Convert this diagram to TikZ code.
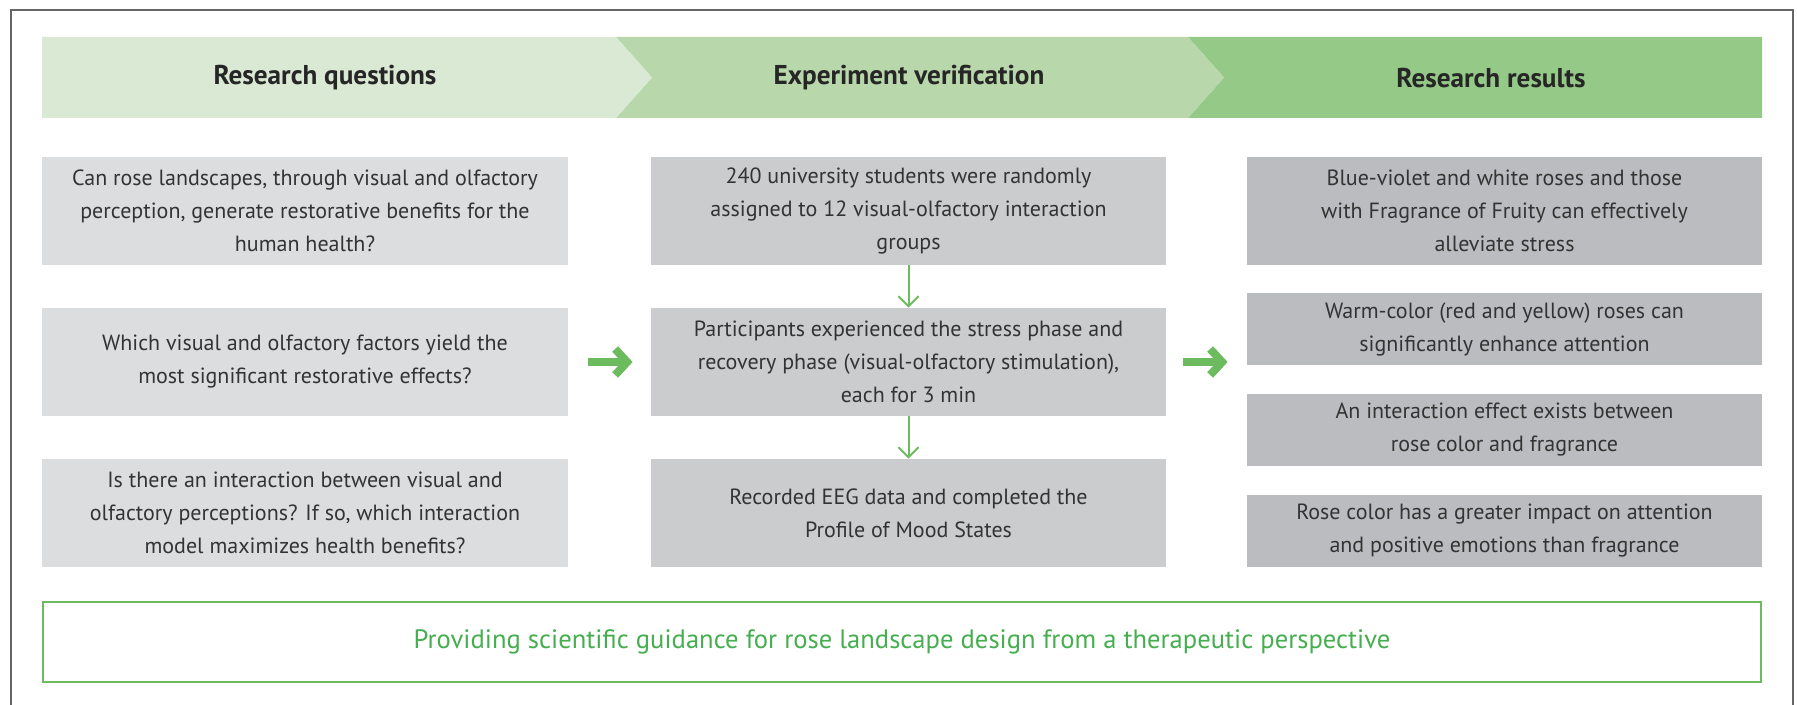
\documentclass[tikz,border=0pt]{standalone}
\usepackage{fontspec}
\setmainfont{PT Sans}
\usepackage{xcolor}
\usetikzlibrary{
    arrows.meta,
    calc
}
\definecolor{frameline}{HTML}{666666}
\definecolor{headA}{HTML}{DAE9D4}
\definecolor{headB}{HTML}{B8D8AC}
\definecolor{headC}{HTML}{94C988}
\definecolor{grayQ}{HTML}{DCDDDF}
\definecolor{grayE}{HTML}{CBCCCE}
\definecolor{grayR}{HTML}{BBBCBF}
\definecolor{arrowgreen}{HTML}{6CBB5F}
\definecolor{guidegreen}{HTML}{45AE4F}
\definecolor{bodytext}{HTML}{333333}

\begin{document}
\begin{tikzpicture}[x=0.5pt, y=-0.5pt,
    box/.style={inner sep=0pt, align=center, text=bodytext,
        font=\fontsize{11}{16.5}\selectfont, minimum height=54pt},
    qbox/.style={box, fill=grayQ, minimum width=263pt},
    ebox/.style={box, fill=grayE, minimum width=257.5pt},
    rbox/.style={box, fill=grayR, minimum width=257.5pt},
    head/.style={font=\fontsize{13.6}{16}\selectfont\bfseries, text=black!85},
    thinarrow/.style={arrowgreen, line width=1pt, -{Straight Barb[length=5pt, width=10pt]}},
    bigarrow/.style={arrowgreen, line width=4pt, -{Straight Barb[length=6pt, width=13pt]}}
    ]
    \useasboundingbox (0,0) rectangle (1797,705);
    \draw[frameline, line width=0.8pt] (11,740) -- (11,10) -- (1793,10) -- (1793,740);

    % header band
    \fill[headC] (1188,37) -- (1762,37) -- (1762,118) -- (1188,118) -- (1224,77.5) -- cycle;
    \fill[headB] (616,37) -- (1188,37) -- (1224,77.5) -- (1188,118) -- (616,118) -- (652,77.5) -- cycle;
    \fill[headA] (42,37) -- (616,37) -- (652,77.5) -- (616,118) -- (42,118) -- cycle;
    \node[head] (hq) at (325,78) {Research questions};
    \node[head] (he) at (909,78) {Experiment verification};
    \node[head] (hr) at (1491,78) {Research results};

    % research questions
    \node[qbox] (q1) at (305,211) {Can rose landscapes, through visual and olfactory\\perception, generate restorative benefits for the\\human health?};
    \node[qbox] (q2) at (305,362) {Which visual and olfactory factors yield the\\most significant restorative effects?};
    \node[qbox] (q3) at (305,513) {Is there an interaction between visual and\\olfactory perceptions? If so, which interaction\\model maximizes health benefits?};

    % experiment
    \node[ebox] (e1) at (908.5,211) {240 university students were randomly\\assigned to 12 visual-olfactory interaction\\groups};
    \node[ebox] (e2) at (908.5,362) {Participants experienced the stress phase and\\recovery phase (visual-olfactory stimulation),\\each for 3 min};
    \node[ebox] (e3) at (908.5,513) {Recorded EEG data and completed the\\Profile of Mood States};

    % results
    \node[rbox] (r1) at (1504.5,211) {Blue-violet and white roses and those\\with Fragrance of Fruity can effectively\\alleviate stress};
    \node[rbox, minimum height=36pt] (r2) at (1504.5,329) {Warm-color (red and yellow) roses can\\significantly enhance attention};
    \node[rbox, minimum height=36pt] (r3) at (1504.5,430) {An interaction effect exists between\\rose color and fragrance};
    \node[rbox, minimum height=36pt] (r4) at (1504.5,531) {Rose color has a greater impact on attention\\and positive emotions than fragrance};

    \draw[thinarrow] (e1) -- (e2);
    \draw[thinarrow] (e2) -- (e3);
    \draw[bigarrow, shorten <=10pt, shorten >=9pt] (q2) -- (e2);
    \draw[bigarrow, shorten <=8.5pt, shorten >=9.5pt] (e2) -- (e2 -| r1.west);

    % conclusion
    \node[draw=arrowgreen, line width=1.25pt, minimum width=859pt, minimum height=40pt,
        text=guidegreen, font=\fontsize{13.3}{16}\selectfont] (guide) at (902,642)
        {Providing scientific guidance for rose landscape design from a therapeutic perspective};
\end{tikzpicture}
\end{document}
